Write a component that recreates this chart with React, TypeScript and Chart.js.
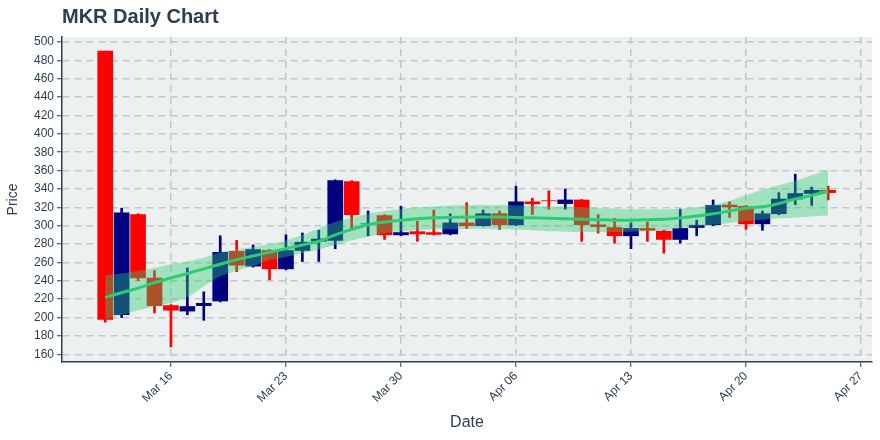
import React, { useEffect, useRef } from "react";
import { Chart, registerables } from "chart.js";

Chart.register(...registerables);

const chartTitle = "MKR Daily Chart";

const dates = [
  "2020-03-12", "2020-03-13", "2020-03-14", "2020-03-15", "2020-03-16", "2020-03-17", "2020-03-18",
  "2020-03-19", "2020-03-20", "2020-03-21", "2020-03-22", "2020-03-23", "2020-03-24", "2020-03-25",
  "2020-03-26", "2020-03-27", "2020-03-28", "2020-03-29", "2020-03-30", "2020-03-31", "2020-04-01",
  "2020-04-02", "2020-04-03", "2020-04-04", "2020-04-05", "2020-04-06", "2020-04-07", "2020-04-08",
  "2020-04-09", "2020-04-10", "2020-04-11", "2020-04-12", "2020-04-13", "2020-04-14", "2020-04-15",
  "2020-04-16", "2020-04-17", "2020-04-18", "2020-04-19", "2020-04-20", "2020-04-21", "2020-04-22",
  "2020-04-23", "2020-04-24", "2020-04-25",
];

const openPrices = [
  490, 203, 312, 243, 213, 207, 213, 218, 272, 256, 273, 253, 273, 283, 284, 348, 302, 311, 290, 293.5,
  292.5, 291, 303, 300, 313, 301, 326, 327.2, 324, 328, 301, 298, 289, 297, 294, 285, 298, 301, 322.5,
  321, 302, 313, 329, 335, 338.5,
];
const highPrices = [
  490, 319, 313, 251, 214, 254, 228, 289, 284, 279, 274, 290, 292, 295, 350, 349, 316, 312, 321, 305,
  317, 313, 325, 317, 316, 343, 330, 338, 340, 328.5, 312, 308, 303, 304, 295, 318, 306, 328, 326,
  322, 316, 336, 356, 342, 343,
];
const lowPrices = [
  195, 200, 240, 205, 168, 203, 197, 217, 250, 255, 241, 252, 261, 261, 275, 296, 289, 285, 289, 283,
  290, 290, 297, 299.5, 296, 300, 312, 318, 318, 283, 292, 281, 275, 283, 270, 281, 289, 300, 309,
  296, 295, 312, 323, 322, 328,
];
const closePrices = [
  198, 314, 243, 213, 208, 212, 215.5, 271, 257, 274, 253, 273, 282, 285.5, 349, 312, 302, 290, 292.5,
  291, 290.5, 303, 300, 313, 301, 326, 323.8, 327, 328, 301, 299, 289, 297, 295, 285, 297, 300.5, 322,
  320.5, 302, 313, 329, 335, 338.5, 336,
];

const movingAverage = [
  222, 227, 232, 238, 243, 248, 253, 258, 263, 267, 271, 275, 279, 283, 290, 296, 301, 304, 306, 307.5,
  308.5, 309, 309.5, 309.5, 309.5, 309, 308.5, 308, 307.5, 307, 306.5, 306, 306, 306.5, 307, 308.5,
  310.5, 313, 316, 319, 320.5, 324, 329, 333, 337.5,
];
const bandUpper = [
  246, 248, 251, 254, 258, 261, 265, 271, 274, 277, 280, 284, 290, 297, 304, 309, 313, 316, 318, 320,
  321, 322, 322.5, 322.5, 322.5, 322, 321.5, 321, 320.5, 320, 319, 318.5, 318, 318, 318, 318.5, 320,
  323, 327, 333, 339, 344, 349, 355, 361,
];
const bandLower = [
  198, 203, 208, 212, 216, 222, 234, 245, 251, 256, 263, 266, 270, 274, 279, 284, 288, 292, 294, 295,
  296, 296, 296.5, 296.5, 296, 295.5, 295, 294, 293.5, 293, 293, 293, 293.5, 294, 295, 297, 299, 301,
  303, 305, 306.5, 308, 309, 310, 311,
];

const tickDates = ["2020-03-16", "2020-03-23", "2020-03-30", "2020-04-06", "2020-04-13", "2020-04-20", "2020-04-27"];
const tickLabels = ["Mar 16", "Mar 23", "Mar 30", "Apr 06", "Apr 13", "Apr 20", "Apr 27"];
const yTickValues = [160, 180, 200, 220, 240, 260, 280, 300, 320, 340, 360, 380, 400, 420, 440, 460, 480, 500];

const baseTime = Date.parse("2020-03-16");
const toDay = (s: string) => (Date.parse(s) - baseTime) / 86400000;

const UP = "#000080";
const DOWN = "#ff0000";
const TEXT = "#2c3e50";
const FONT = "'Liberation Sans', Arial, Helvetica, sans-serif";

export default function App() {
  const canvasRef = useRef<HTMLCanvasElement | null>(null);

  useEffect(() => {
    if (!canvasRef.current) return;
    const days = dates.map(toDay);
    const tickDays = tickDates.map(toDay);
    const colors = dates.map((_, i) => (closePrices[i] >= openPrices[i] ? UP : DOWN));

    const bgPlugin = {
      id: "bgPlugin",
      beforeDraw(chart: any) {
        const { ctx, chartArea } = chart;
        ctx.save();
        ctx.fillStyle = "#ffffff";
        ctx.fillRect(0, 0, chart.width, chart.height);
        ctx.fillStyle = "#ecf0f1";
        ctx.fillRect(chartArea.left, chartArea.top, chartArea.right - chartArea.left, chartArea.bottom - chartArea.top);
        ctx.restore();
      },
    };
    const titlePlugin = {
      id: "titlePlugin",
      afterDraw(chart: any) {
        const { ctx, chartArea } = chart;
        ctx.save();
        ctx.font = `bold 20px ${FONT}`;
        ctx.fillStyle = TEXT;
        ctx.textAlign = "left";
        ctx.textBaseline = "alphabetic";
        ctx.fillText(chartTitle, chartArea.left, 23);
        ctx.restore();
      },
    };

    Chart.defaults.font.family = FONT;

    const chart = new Chart(canvasRef.current, {
      type: "bar",
      data: {
        datasets: [
          {
            type: "line",
            label: "MA",
            data: days.map((d, i) => ({ x: d, y: movingAverage[i] })),
            borderColor: "#2ecc71",
            borderWidth: 3,
            pointRadius: 0,
            tension: 0.3,
            fill: false,
            order: 0,
          } as any,
          {
            type: "line",
            label: "Upper",
            data: days.map((d, i) => ({ x: d, y: bandUpper[i] })),
            borderWidth: 0,
            borderColor: "rgba(0,0,0,0)",
            backgroundColor: "rgba(46,204,113,0.4)",
            pointRadius: 0,
            tension: 0.3,
            fill: "+1",
            order: 1,
          } as any,
          {
            type: "line",
            label: "Lower",
            data: days.map((d, i) => ({ x: d, y: bandLower[i] })),
            borderWidth: 0,
            borderColor: "rgba(0,0,0,0)",
            pointRadius: 0,
            tension: 0.3,
            fill: false,
            order: 1,
          } as any,
          {
            type: "bar",
            label: "Body",
            data: days.map((d, i) => ({ x: d, y: [openPrices[i], closePrices[i]] })),
            backgroundColor: colors,
            barThickness: 15,
            grouped: false,
            order: 2,
          } as any,
          {
            type: "bar",
            label: "Wick",
            data: days.map((d, i) => ({ x: d, y: [lowPrices[i], highPrices[i]] })),
            backgroundColor: colors,
            barThickness: 2,
            grouped: false,
            order: 3,
          } as any,
        ],
      },
      options: {
        animation: false,
        responsive: true,
        maintainAspectRatio: false,
        devicePixelRatio: 1,
        layout: { padding: { top: 37, right: 8, left: 0, bottom: 0 } },
        plugins: {
          legend: { display: false },
          tooltip: { enabled: false },
          title: { display: false },
        },
        scales: {
          x: {
            type: "linear",
            min: -6.63,
            max: 42.67,
            offset: false,
            afterBuildTicks: (axis: any) => {
              axis.ticks = tickDays.map((v) => ({ value: v }));
            },
            afterFit: (axis: any) => {
              axis.height = 78;
            },
            ticks: {
              autoSkip: false,
              minRotation: 45,
              maxRotation: 45,
              color: TEXT,
              font: { size: 12 },
              padding: 2,
              callback: (value: any) => {
                const k = tickDays.indexOf(Number(value));
                return k >= 0 ? tickLabels[k] : "";
              },
            },
            grid: {
              offset: false,
              color: "#c3c6c8",
              lineWidth: 1.5,
              tickColor: TEXT,
              tickLength: 5,
              tickWidth: 1,
            },
            border: { display: true, color: TEXT, width: 1.5, dash: [7, 5] },
            title: {
              display: true,
              text: "Date",
              color: TEXT,
              font: { size: 16 },
              padding: { top: 0, bottom: 8 },
            },
          },
          y: {
            type: "linear",
            min: 151.6,
            max: 505.4,
            beginAtZero: false,
            afterBuildTicks: (axis: any) => {
              axis.ticks = yTickValues.map((v) => ({ value: v }));
            },
            afterFit: (axis: any) => {
              axis.width = 62;
            },
            ticks: {
              color: TEXT,
              font: { size: 12 },
              padding: 3,
            },
            grid: {
              color: "#c3c6c8",
              lineWidth: 1.5,
              tickColor: TEXT,
              tickLength: 5,
              tickWidth: 1,
            },
            border: { display: true, color: TEXT, width: 1.5, dash: [7, 5] },
            title: {
              display: true,
              text: "Price",
              color: TEXT,
              font: { size: 14 },
              padding: { top: 5, bottom: 0 },
            },
          },
        },
      } as any,
      plugins: [bgPlugin, titlePlugin],
    });

    return () => chart.destroy();
  }, []);

  return (
    <div style={{ position: "fixed", left: 0, top: 0, width: 880, height: 440, background: "#fff" }}>
      <canvas ref={canvasRef} />
    </div>
  );
}
